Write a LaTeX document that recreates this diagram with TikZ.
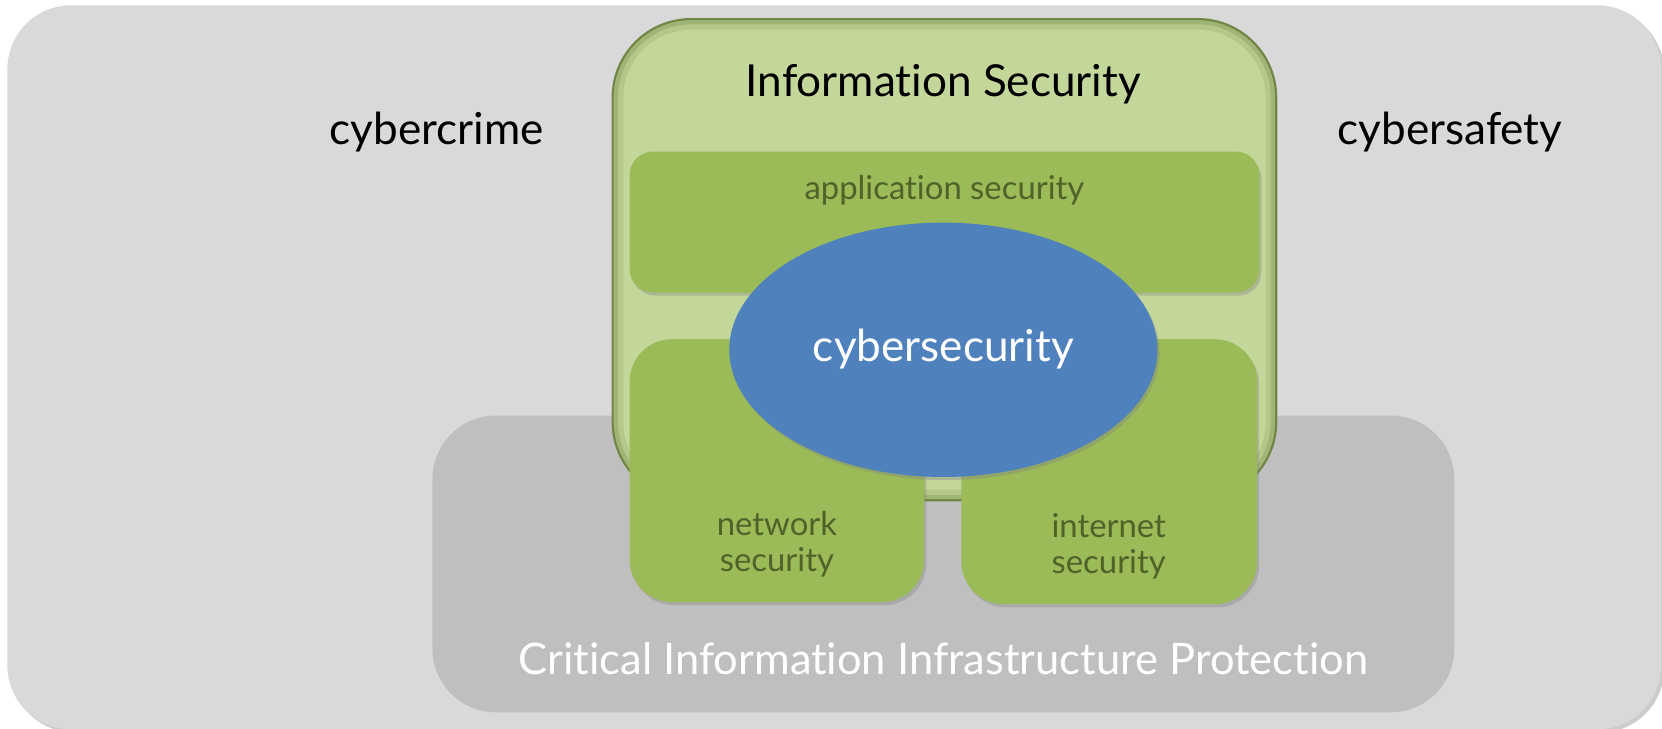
\documentclass[tikz,border=0pt]{standalone}
\usepackage{fontspec}
\setmainfont{Lato}[Ligatures=NoCommon]
\usetikzlibrary{shapes.geometric,shadows,positioning}
\definecolor{bggray}{HTML}{D9D9D9}
\definecolor{ciipgray}{HTML}{BFBFBF}
\definecolor{lightgreen}{HTML}{C4D79B}
\definecolor{midgreen}{HTML}{9BBB59}
\definecolor{edgegreen}{HTML}{6F8645}
\definecolor{labelgreen}{HTML}{4F6228}
\definecolor{cyberblue}{HTML}{4F81BD}

\begin{document}
\begin{tikzpicture}[x=0.5pt, y=-0.5pt,
  box/.style={rounded corners=#1, inner sep=0pt},
  greenbox/.style={box=#1, fill=midgreen, drop shadow={shadow xshift=1pt, shadow yshift=-1.5pt, opacity=0.35}},
  innershade/.style={path picture={
    \draw[edgegreen, line width=10pt, opacity=0.18, rounded corners=#1] (path picture bounding box.south west) rectangle (path picture bounding box.north east);
    \draw[edgegreen, line width=5pt, opacity=0.3, rounded corners=#1] (path picture bounding box.south west) rectangle (path picture bounding box.north east);}},
  bigtext/.style={font=\fontsize{20.8}{25}\selectfont},
  smalltext/.style={font=\fontsize{15.5}{17}\selectfont, text=labelgreen, align=center}]
\useasboundingbox (0,0) rectangle (1568,687);
% outer area
\node[box=30pt, fill=bggray, minimum width=780pt, minimum height=341.5pt,
  drop shadow={shadow xshift=1.5pt, shadow yshift=-1.5pt, opacity=0.4}] (world) at (787,346.5) {};
\node[box=30pt, fill=ciipgray, minimum width=482pt, minimum height=140pt] (ciip) at (890,532) {};
\node[box=37pt, fill=lightgreen, draw=edgegreen, line width=1pt, innershade=37pt, minimum width=313pt, minimum height=227pt] (infosec) at (891,245) {};
% inner domains
\node[greenbox=11pt, minimum width=297pt, minimum height=66.5pt] (appsec) at (891,209.5) {};
\node[greenbox=20pt, minimum width=139pt, minimum height=124pt] (netsec) at (733,444) {};
\node[greenbox=20pt, minimum width=139.5pt, minimum height=125pt] (inetsec) at (1046.5,445) {};
\node[ellipse, fill=cyberblue, inner sep=0pt, minimum width=202pt, minimum height=120pt,
  drop shadow={shadow xshift=1pt, shadow yshift=-1.5pt, opacity=0.35}] (cyber) at (890,330) {};
% labels
\node[bigtext, anchor=base] (infotitle) at (890,91) {Information Security};
\node[bigtext, anchor=base] (crime) at (412,136) {cybercrime};
\node[bigtext, anchor=base] (safety) at (1368,136) {cybersafety};
\node[bigtext, anchor=base, text=white] (cybertitle) at (890,341) {cybersecurity};
\node[smalltext, anchor=base] (apptitle) at (891,188) {application security};
\node[smalltext, anchor=base] (nettitle) at (733,539) {network\\security};
\node[smalltext, anchor=base] (inettitle) at (1046,541) {internet\\security};
\node[bigtext, anchor=base, text=white, font=\fontsize{20.5}{24}\selectfont] (ciiptitle) at (890,636) {Critical Information Infrastructure Protection};
\end{tikzpicture}
\end{document}
